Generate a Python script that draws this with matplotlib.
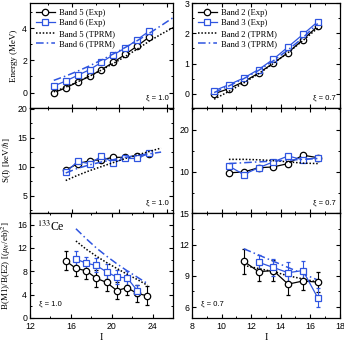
import matplotlib
matplotlib.use("Agg")
import matplotlib.pyplot as plt
from matplotlib.ticker import MultipleLocator

plt.rcParams['font.family'] = ['Liberation Sans', 'DejaVu Sans']
plt.rcParams['mathtext.fontset'] = 'stix'

BLUE = '#2f55e0'
SERIF = ['Liberation Serif', 'DejaVu Serif']

# ---- left column: bands 5 / 6 (xi = 1.0) ----
I_e56 = [14.5, 15.5, 16.5, 17.5, 18.5, 19.5, 20.5, 21.5, 22.5]
E5 = [0.0, 0.29, 0.66, 1.01, 1.42, 1.88, 2.37, 2.89, 3.44]
E6 = [0.41, 0.72, 1.07, 1.42, 1.88, 2.35, 2.76, 3.28, 3.81]
I_th56 = [14.5, 15.5, 16.5, 17.5, 18.5, 19.5, 20.5, 21.5, 22.5, 23.5, 24.5]
E5_th = [0.05, 0.34, 0.67, 1.02, 1.40, 1.81, 2.24, 2.70, 3.18, 3.62, 4.02]
E6_th = [0.76, 1.03, 1.33, 1.66, 2.02, 2.40, 2.80, 3.22, 3.67, 4.15, 4.64]

I_s56 = [15.5, 16.5, 17.5, 18.5, 19.5, 20.5, 21.5, 22.5]
S5 = [9.4, 10.5, 11.0, 11.2, 11.6, 11.6, 11.9, 12.2]
S6 = [9.0, 10.9, 10.5, 11.8, 10.7, 11.4, 11.4, 12.3]
I_sth56 = [15.5, 16.5, 17.5, 18.5, 19.5, 20.5, 21.5, 22.5, 23.5]
S5_th = [7.6, 8.5, 9.3, 10.0, 10.7, 11.4, 12.0, 12.6, 13.2]
S6_th = [8.9, 9.7, 10.3, 10.8, 11.2, 11.6, 11.9, 12.2, 12.5]

I_b5 = [15.5, 16.5, 17.5, 18.5, 19.5, 20.5, 21.5, 22.5, 23.5]
B5 = [9.8, 8.5, 8.1, 6.8, 6.1, 4.7, 5.2, 4.2, 3.8]
B5_err = [1.6, 1.3, 1.4, 1.5, 1.4, 1.5, 1.3, 1.5, 1.6]
I_b6 = [16.5, 17.5, 18.5, 19.5, 20.5, 21.5, 22.5]
B6 = [10.1, 9.4, 9.0, 7.9, 7.0, 6.9, 4.7]
B6_err = [1.3, 1.1, 1.2, 1.3, 1.2, 1.2, 1.0]
I_bth56 = [16.5, 17.5, 18.5, 19.5, 20.5, 21.5, 22.5, 23.5]
B5_th = [13.2, 11.8, 10.6, 9.5, 8.5, 7.5, 6.6, 5.6]
B6_th = [15.3, 13.6, 12.0, 10.6, 9.3, 8.1, 7.0, 5.9]

# ---- right column: bands 2 / 3 (xi = 0.7) ----
I_e23 = [9.5, 10.5, 11.5, 12.5, 13.5, 14.5, 15.5, 16.5]
E2 = [0.0, 0.17, 0.40, 0.68, 1.01, 1.36, 1.79, 2.23]
E3 = [0.10, 0.30, 0.52, 0.80, 1.14, 1.55, 1.96, 2.38]
E2_th = [-0.18, 0.08, 0.36, 0.66, 1.00, 1.36, 1.76, 2.17]
E3_th = [0.04, 0.26, 0.50, 0.77, 1.09, 1.45, 1.85, 2.32]

I_s23 = [10.5, 11.5, 12.5, 13.5, 14.5, 15.5, 16.5]
S2 = [9.8, 10.0, 11.0, 11.2, 12.0, 14.0, 13.4]
S3 = [11.4, 9.4, 11.0, 12.4, 13.8, 12.9, 13.4]
S2_th = [13.0, 13.0, 12.9, 12.7, 12.4, 12.1, 12.0]
S3_th = [12.0, 12.2, 12.4, 12.6, 12.8, 13.0, 13.2]

I_b2 = [11.5, 12.5, 13.5, 14.5, 15.5, 16.5]
B2 = [10.4, 9.4, 9.5, 8.2, 8.5, 8.4]
B2_err = [1.2, 0.9, 1.0, 1.0, 0.9, 1.0]
I_b3 = [12.5, 13.5, 14.5, 15.5, 16.5]
B3 = [10.3, 9.8, 9.3, 9.5, 6.9]
B3_err = [0.7, 0.8, 1.0, 0.9, 0.9]
B2_th = [10.0, 9.7, 9.4, 9.0, 8.7, 8.4]
B3_th = [11.6, 11.0, 10.4, 9.8, 9.2, 8.6]

fig = plt.figure(figsize=(3.44, 3.45), dpi=100)
lx, lw = 0.087, 0.416
rx, rw = 0.558, 0.430
h = 0.3043
rows = [0.687, 0.3826, 0.0783]

axes = {}
for r, y0 in enumerate(rows):
    axes[(r, 0)] = fig.add_axes([lx, y0, lw, h])
    axes[(r, 1)] = fig.add_axes([rx, y0, rw, h])

for ax in axes.values():
    ax.tick_params(which='both', direction='in', top=True, right=True,
                   labelsize=6.3, pad=2)
    ax.tick_params(which='major', length=3, width=0.8)
    ax.tick_params(which='minor', length=1.6, width=0.7)
    for s in ax.spines.values():
        s.set_linewidth(0.9)

DOT = (0, (1, 1.2))
DASHDOT = (0, (5, 2, 1, 2))


def exp_line(ax, x, y, color, marker, label=None, yerr=None):
    kw = dict(color=color, marker=marker, mfc='white', mec=color, ms=4.6,
              mew=0.9, lw=0.9, label=label)
    if yerr is None:
        ax.plot(x, y, **kw)
    else:
        ax.errorbar(x, y, yerr=yerr, capsize=1.5, elinewidth=0.8,
                    capthick=0.8, **kw)


def xi_text(ax, s, left=False):
    if left:
        ax.text(0.06, 0.1, s, transform=ax.transAxes, fontsize=5.5,
                ha='left', va='bottom')
    else:
        ax.text(0.97, 0.06, s, transform=ax.transAxes, fontsize=5.5,
                ha='right', va='bottom')


def add_legend(ax):
    ax.legend(loc='upper left', frameon=False, prop={'family': SERIF, 'size': 6.2},
              handlelength=2.3, labelspacing=0.3, borderaxespad=0.25,
              handletextpad=0.4)


# energy
ax = axes[(0, 0)]
exp_line(ax, I_e56, E5, 'k', 'o', 'Band 5 (Exp)')
exp_line(ax, I_e56, E6, BLUE, 's', 'Band 6 (Exp)')
ax.plot(I_th56, E5_th, color='k', ls=DOT, lw=1.1, label='Band 5 (TPRM)')
ax.plot(I_th56, E6_th, color=BLUE, ls=DASHDOT, lw=1.1, label='Band 6 (TPRM)')
ax.set_ylim(-0.95, 5.55)
ax.yaxis.set_major_locator(MultipleLocator(2))
ax.yaxis.set_minor_locator(MultipleLocator(1))
ax.set_ylabel('Energy (MeV)', family=SERIF, fontsize=6.5, labelpad=3)
add_legend(ax)
xi_text(ax, 'ξ = 1.0')

ax = axes[(0, 1)]
exp_line(ax, I_e23, E2, 'k', 'o', 'Band 2 (Exp)')
exp_line(ax, I_e23, E3, BLUE, 's', 'Band 3 (Exp)')
ax.plot(I_e23, E2_th, color='k', ls=DOT, lw=1.1, label='Band 2 (TPRM)')
ax.plot(I_e23, E3_th, color=BLUE, ls=DASHDOT, lw=1.1, label='Band 3 (TPRM)')
ax.set_ylim(-0.47, 3.0)
ax.yaxis.set_major_locator(MultipleLocator(1))
ax.yaxis.set_minor_locator(MultipleLocator(0.5))
add_legend(ax)
xi_text(ax, 'ξ = 0.7')

# S(I)
ax = axes[(1, 0)]
exp_line(ax, I_s56, S5, 'k', 'o')
exp_line(ax, I_s56, S6, BLUE, 's')
ax.plot(I_sth56, S5_th, color='k', ls=DOT, lw=1.1)
ax.plot(I_sth56, S6_th, color=BLUE, ls=DASHDOT, lw=1.1)
ax.set_ylim(2.0, 20.1)
ax.yaxis.set_major_locator(MultipleLocator(5))
ax.yaxis.set_minor_locator(MultipleLocator(2.5))
ax.set_ylabel(r'S(I) [keV/$\hbar$]', family=SERIF, fontsize=6.5, labelpad=3)
xi_text(ax, 'ξ = 1.0')

ax = axes[(1, 1)]
exp_line(ax, I_s23, S2, 'k', 'o')
exp_line(ax, I_s23, S3, BLUE, 's')
ax.plot(I_s23, S2_th, color='k', ls=DOT, lw=1.1)
ax.plot(I_s23, S3_th, color=BLUE, ls=DASHDOT, lw=1.1)
ax.set_ylim(0.25, 25.2)
ax.yaxis.set_major_locator(MultipleLocator(10))
ax.yaxis.set_minor_locator(MultipleLocator(5))
xi_text(ax, 'ξ = 0.7')

# B(M1)/B(E2)
ax = axes[(2, 0)]
exp_line(ax, I_b5, B5, 'k', 'o', yerr=B5_err)
exp_line(ax, I_b6, B6, BLUE, 's', yerr=B6_err)
ax.plot(I_bth56, B5_th, color='k', ls=DOT, lw=1.1)
ax.plot(I_bth56, B6_th, color=BLUE, ls=DASHDOT, lw=1.1)
ax.set_ylim(0, 18)
ax.yaxis.set_major_locator(MultipleLocator(4))
ax.yaxis.set_minor_locator(MultipleLocator(2))
ax.set_ylabel(r'B(M1)/B(E2) [($\mu_N$/eb)$^2$]', family=SERIF, fontsize=6.5, labelpad=3)
ax.text(0.05, 0.83, r'$^{133}$Ce', transform=ax.transAxes, family=SERIF, fontsize=8.5)
xi_text(ax, 'ξ = 1.0', left=True)

ax = axes[(2, 1)]
exp_line(ax, I_b2, B2, 'k', 'o', yerr=B2_err)
exp_line(ax, I_b3, B3, BLUE, 's', yerr=B3_err)
ax.plot(I_b2, B2_th, color='k', ls=DOT, lw=1.1)
ax.plot(I_b2, B3_th, color=BLUE, ls=DASHDOT, lw=1.1)
ax.set_ylim(4.95, 15.03)
ax.yaxis.set_major_locator(MultipleLocator(3))
ax.yaxis.set_minor_locator(MultipleLocator(1.5))
xi_text(ax, 'ξ = 0.7', left=True)

# the upper two left panels are drawn on a slightly different I scale
for r in range(2):
    a = axes[(r, 0)]
    a.set_xlim(12.5, 24.5)
    a.xaxis.set_major_locator(MultipleLocator(4))
    a.xaxis.set_minor_locator(MultipleLocator(2))
    a.tick_params(labelbottom=False)
a = axes[(2, 0)]
a.set_xlim(12, 26)
a.xaxis.set_major_locator(MultipleLocator(4))
a.xaxis.set_minor_locator(MultipleLocator(2))

for r in range(3):
    b = axes[(r, 1)]
    b.set_xlim(8, 18)
    b.xaxis.set_major_locator(MultipleLocator(2))
    b.xaxis.set_minor_locator(MultipleLocator(1))
    if r < 2:
        b.tick_params(labelbottom=False)

for c in range(2):
    axes[(2, c)].tick_params(axis='x', pad=3)
    axes[(2, c)].set_xlabel('I', family=SERIF, fontsize=7.5, labelpad=1)

fig.savefig('out.png', dpi=100)
